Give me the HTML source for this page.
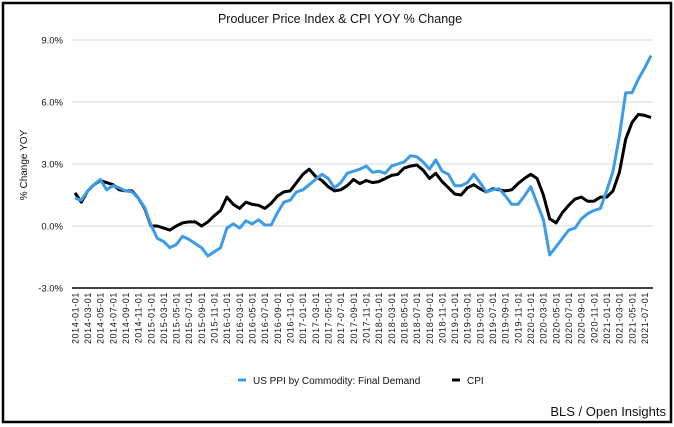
<!DOCTYPE html>
<html><head><meta charset="utf-8"><style>
html,body{margin:0;padding:0;background:#fff;}
body{width:674px;height:427px;overflow:hidden;}
svg{display:block;font-family:"Liberation Sans",Arial,sans-serif;}
</style></head><body>
<svg id="chart" width="674" height="427" viewBox="0 0 674 427" xmlns="http://www.w3.org/2000/svg">
<rect x="3" y="3" width="668" height="419" fill="#fff" stroke="#000" stroke-width="2.5"/>
<text x="340" y="23" text-anchor="middle" font-size="12.5" fill="#111">Producer Price Index &amp; CPI YOY % Change</text>
<text transform="translate(27,165) rotate(-90)" text-anchor="middle" font-size="10" fill="#111">% Change YOY</text>
<g id="grid"></g><g id="yticks"></g><g id="xticks"></g><g id="series"></g>
<g>
<g><line x1="238" y1="380" x2="246" y2="380" stroke="#3d9be9" stroke-width="3"/><text x="253" y="384" font-size="10" fill="#111">US PPI by Commodity: Final Demand</text></g>
<g><line x1="452" y1="380" x2="460" y2="380" stroke="#000" stroke-width="3"/><text x="467" y="384" font-size="10" fill="#111">CPI</text></g>
</g>
<text x="666" y="416" text-anchor="end" font-size="13" fill="#111">BLS / Open Insights</text>
</svg>
<script>
const startYear = 2014, startMonth = 1;
const yTicks = [-3, 0, 3, 6, 9];
const ppiValues = [1.35,1.25,1.7,2.0,2.25,1.75,1.95,1.85,1.7,1.65,1.35,0.9,
0.05,-0.6,-0.75,-1.05,-0.9,-0.5,-0.65,-0.85,-1.05,-1.45,-1.25,-1.05,
-0.1,0.1,-0.1,0.25,0.1,0.3,0.05,0.05,0.65,1.15,1.25,1.65,
1.75,2.0,2.25,2.5,2.3,1.85,2.1,2.55,2.65,2.75,2.9,2.6,
2.65,2.55,2.9,3.0,3.1,3.4,3.35,3.1,2.75,3.2,2.65,2.5,
1.95,1.95,2.1,2.5,2.1,1.65,1.75,1.8,1.45,1.05,1.05,1.45,
1.9,1.1,0.3,-1.4,-1.0,-0.6,-0.2,-0.1,0.35,0.6,0.75,0.85,
1.7,2.65,4.35,6.45,6.45,7.1,7.65,8.25];
const cpiValues = [1.6,1.15,1.7,2.0,2.2,2.1,2.0,1.75,1.7,1.7,1.35,0.85,
0.0,0.0,-0.1,-0.2,0.0,0.15,0.2,0.2,0.0,0.2,0.5,0.75,
1.4,1.05,0.85,1.15,1.05,1.0,0.85,1.1,1.45,1.65,1.7,2.1,
2.5,2.75,2.4,2.2,1.9,1.7,1.75,1.95,2.25,2.05,2.2,2.1,
2.15,2.3,2.45,2.5,2.8,2.9,2.95,2.7,2.3,2.55,2.15,1.85,
1.55,1.5,1.85,2.0,1.8,1.65,1.8,1.75,1.7,1.75,2.05,2.3,
2.5,2.3,1.5,0.35,0.15,0.65,1.0,1.3,1.4,1.2,1.2,1.4,
1.4,1.7,2.6,4.2,5.0,5.4,5.35,5.25];

const NS = "http://www.w3.org/2000/svg";
const x0 = 75, x1 = 651, yZero = 226, pxPerPct = 20.67;
const n = ppiValues.length;
function xScale(i){ return x0 + (x1 - x0) * i / (n - 1); }
function yScale(v){ return yZero - v * pxPerPct; }
function monthLabel(i){ const m = startMonth - 1 + i; const y = startYear + Math.floor(m/12); const mm = (m%12)+1; return y + "-" + (mm<10?"0":"") + mm + "-01"; }

const grid = document.getElementById('grid');
const yt = document.getElementById('yticks');
yTicks.forEach(v => {
  const y = yScale(v);
  const l = document.createElementNS(NS,'line');
  
  
  l.setAttribute('x1', 72); l.setAttribute('x2', 653);
  l.setAttribute('y1', y); l.setAttribute('y2', y);
  l.setAttribute('stroke', v === -3 ? '#000' : '#d6d6d6');
  l.setAttribute('stroke-width', v === -3 ? 1.5 : 1);
  grid.appendChild(l);
  const t = document.createElementNS(NS,'text');
  
  
  t.setAttribute('x', 63); t.setAttribute('y', y + 3.5);
  t.setAttribute('text-anchor', 'end'); t.setAttribute('font-size', '9.5'); t.setAttribute('fill', '#111');
  t.textContent = v.toFixed(1) + "%";
  yt.appendChild(t);
});

const xt = document.getElementById('xticks');
for (let i = 0; i < n; i += 2) {
  const x = xScale(i);
  const t = document.createElementNS(NS,'text');
  
  
  t.setAttribute('transform', 'translate(' + (x + 3.3) + ',292) rotate(-90)');
  t.setAttribute('text-anchor', 'end'); t.setAttribute('font-size', '9'); t.setAttribute('fill', '#111');
  t.setAttribute('letter-spacing', '0.6');
  t.textContent = monthLabel(i);
  xt.appendChild(t);
}

const ser = document.getElementById('series');
function drawLine(vals, color, name){
  const p = document.createElementNS(NS,'polyline');
  
  
  p.setAttribute('points', vals.map((v,i) => xScale(i).toFixed(1) + "," + yScale(v).toFixed(1)).join(" "));
  p.setAttribute('fill', 'none'); p.setAttribute('stroke', color);
  p.setAttribute('stroke-width', '3'); p.setAttribute('stroke-linejoin', 'round');
  ser.appendChild(p);
}
drawLine(cpiValues, '#000', 'cpi-line');
drawLine(ppiValues, '#3d9be9', 'ppi-line');
</script>
</body></html>
